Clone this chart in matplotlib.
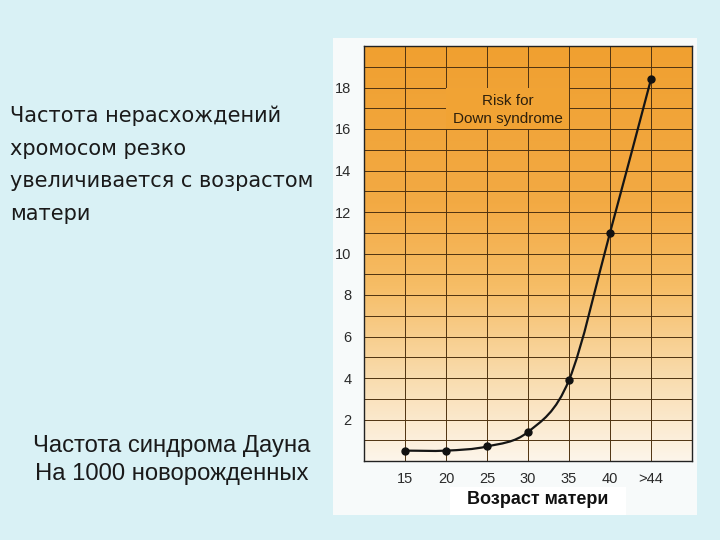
import numpy as np
import matplotlib
matplotlib.use('Agg')
import matplotlib.pyplot as plt
from matplotlib.colors import LinearSegmentedColormap
from matplotlib.patches import Rectangle, PathPatch
from matplotlib.path import Path

# Данные: риск синдрома Дауна на 1000 новорожденных по возрасту матери
ages = ['15', '20', '25', '30', '35', '40', '>44']
risk = [0.5, 0.5, 0.7, 1.4, 3.9, 11.0, 18.4]
y_ticks = [2, 4, 6, 8, 10, 12, 14, 16, 18]

left_text = 'Частота нерасхождений\nхромосом резко\nувеличивается с возрастом\nматери'
bottom_text = 'Частота синдрома Дауна\nНа 1000 новорожденных'
x_label = 'Возраст матери'
box_text = 'Risk for\nDown syndrome'

bg = '#d9f1f5'
fig = plt.figure(figsize=(7.2, 5.4), dpi=100, facecolor=bg)

# белая подложка под картинкой
fig.patches.append(Rectangle((333 / 720, 1 - 515 / 540), 364 / 720, 477 / 540,
                             transform=fig.transFigure, facecolor='#f7fafa',
                             edgecolor='none', zorder=-2))
fig.patches.append(Rectangle((450 / 720, 1 - 515 / 540), 176 / 720, 28 / 540,
                             transform=fig.transFigure, facecolor='white',
                             edgecolor='none', zorder=-1))

ax = fig.add_axes([364 / 720, 1 - 461 / 540, 328 / 720, 415 / 540])
ax.set_zorder(1)
x = np.arange(len(ages))
ax.set_xlim(-1, len(ages))
ax.set_ylim(0, 20)

# градиентная заливка
cmap = LinearSegmentedColormap.from_list('grad', [
    (0.0, '#fdf5ea'), (0.2, '#f9dcae'), (0.42, '#f6bd66'),
    (0.62, '#f3aa44'), (1.0, '#f0a030')])
grad = np.linspace(0, 1, 256).reshape(-1, 1)
ax.imshow(grad, cmap=cmap, origin='lower', aspect='auto',
          extent=[-1, len(ages), 0, 20], zorder=0)

ax.set_xticks(x)
ax.set_xticklabels(ages)
ax.set_yticks(y_ticks)
ax.set_yticks(np.arange(1, 20, 1), minor=True)
ax.set_axisbelow(True)
ax.grid(True, which='both', color='#4e3210', linewidth=0.7)
ax.tick_params(which='both', length=0)
ax.tick_params(axis='y', pad=9, labelsize=10.5, labelcolor='#2a2a2a')
ax.tick_params(axis='x', pad=8, labelsize=10.5, labelcolor='#2a2a2a')
for lab in ax.get_xticklabels() + ax.get_yticklabels():
    lab.set_family('Liberation Sans')
for s in ax.spines.values():
    s.set_color('#222222')
    s.set_linewidth(1.0)

# подпись внутри графика
ax.add_patch(Rectangle((1, 16), 3, 2, facecolor='#f1a334', edgecolor='none', zorder=0.8))
ax.text(2.5, 16.9, box_text, ha='center', va='center', fontsize=11,
        family='Liberation Sans', color='#2e200c', linespacing=1.35, zorder=1)

# плавная кривая через точки (Catmull-Rom -> кривые Безье)
pts = np.column_stack([x, risk]).astype(float)
n = len(pts)
tang = np.zeros_like(pts)
tang[0] = pts[1] - pts[0]
tang[-1] = pts[-1] - pts[-2]
tang[1:-1] = (pts[2:] - pts[:-2]) / 2
verts = [tuple(pts[0])]
codes = [Path.MOVETO]
for i in range(n - 1):
    verts += [tuple(pts[i] + tang[i] / 3), tuple(pts[i + 1] - tang[i + 1] / 3), tuple(pts[i + 1])]
    codes += [Path.CURVE4] * 3
ax.add_patch(PathPatch(Path(verts, codes), facecolor='none', edgecolor='#151515',
                       linewidth=1.6, zorder=2))
ax.plot(x, risk, 'o', color='#111111', markersize=5, zorder=3)

# подпись оси X в белой рамке
fig.text(538 / 720, 1 - 500 / 540, x_label, ha='center', va='center', fontsize=13,
         fontweight='bold', family='Liberation Sans', color='#111111')

# текст слева
fig.text(10 / 720, 1 - 106 / 540, left_text, ha='left', va='top', fontsize=15,
         family='DejaVu Sans', color='#1a1a1a', linespacing=1.78)
fig.text(172 / 720, 1 - 460 / 540, bottom_text, ha='center', va='center',
         multialignment='center', fontsize=17.2, family='Liberation Sans',
         color='#1a1a1a', linespacing=1.38)

fig.savefig('out.png', dpi=100, facecolor=bg)
